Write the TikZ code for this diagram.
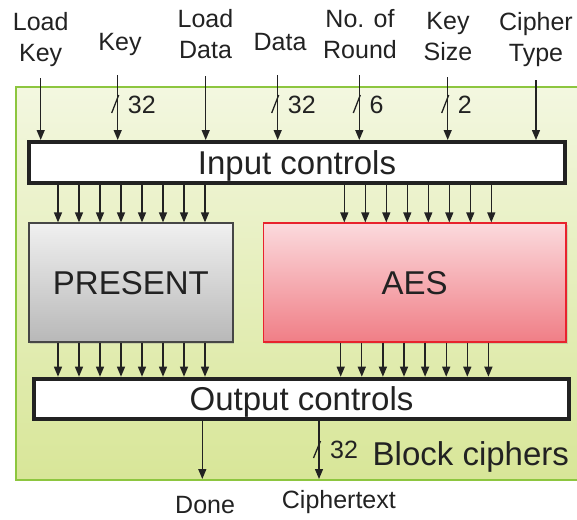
\documentclass[tikz,border=0pt]{standalone}
\usepackage{fontspec}
\setmainfont{Liberation Sans}
\usetikzlibrary{arrows.meta,shadows}
\definecolor{txt}{RGB}{34,34,34}
\definecolor{gtop}{RGB}{243,247,224}
\definecolor{gbot}{RGB}{216,230,152}
\definecolor{gline}{RGB}{141,198,63}
\definecolor{ptop}{RGB}{240,240,240}
\definecolor{pbot}{RGB}{184,184,184}
\definecolor{pline}{RGB}{70,70,70}
\definecolor{rtop}{RGB}{251,218,221}
\definecolor{rbot}{RGB}{240,126,134}
\definecolor{rline}{RGB}{232,35,45}
\tikzset{
  lbl/.style={font=\fontsize{25}{31}\selectfont, text=txt, align=center, inner sep=0pt},
  bus/.style={font=\fontsize{25}{28}\selectfont, text=txt, inner sep=0pt, anchor=base west},
  bigtxt/.style={font=\fontsize{33}{38}\selectfont, text=txt},
  arr/.style={draw=txt, line width=1.3pt, -{Triangle[length=10pt,width=8pt]}},
  slashmark/.style={draw=txt, line width=1.3pt},
  ctrlbox/.style={draw=txt, fill=white, line width=4pt, inner sep=0pt, bigtxt, text depth=0pt,
    drop shadow={opacity=0.25, shadow xshift=1.5pt, shadow yshift=-1.5pt}},
  cipherbox/.style={line width=1.2pt, inner sep=0pt, bigtxt, text depth=-2pt,
    drop shadow={opacity=0.25, shadow xshift=1.5pt, shadow yshift=-1.5pt}}
}
\begin{document}
\begin{tikzpicture}[x=1pt,y=-1pt]
\useasboundingbox (0,0) rectangle (577,519);
% container
\node[draw=gline, line width=2pt, top color=gtop, bottom color=gbot,
  minimum width=565pt, minimum height=393pt, inner sep=0pt] (bc) at (298.5,283.5) {};
% boxes
\node[ctrlbox, minimum width=535.4pt, minimum height=41pt] (inp) at (297,162.5) {Input controls};
\node[ctrlbox, minimum width=535.6pt, minimum height=40pt] (out) at (301.5,398.7) {Output controls};
\node[cipherbox, draw=pline, top color=ptop, bottom color=pbot,
  minimum width=204pt, minimum height=119pt] (pres) at (130.9,282.5) {PRESENT};
\node[cipherbox, draw=rline, top color=rtop, bottom color=rbot,
  minimum width=302.7pt, minimum height=119pt] (aes) at (414.7,282.5) {AES};
% top labels (anchor base = last line)
\node[lbl, anchor=base] (lLK) at (40.7,61.7) {Load\\Key};
\node[lbl, anchor=base] (lK) at (120,50) {Key};
\node[lbl, anchor=base] (lLD) at (205.5,58.3) {Load\\Data};
\node[lbl, anchor=base] (lD) at (280,50) {Data};
\node[lbl, anchor=base] (lNR) at (360,58.3) {No. of\\Round};
\node[lbl, anchor=base] (lKS) at (448,60) {Key\\Size};
\node[lbl, anchor=base] (lCT) at (536,61.7) {Cipher\\Type};
% input arrow starts
\coordinate (s1) at (40.7,78);
\coordinate (s2) at (117.7,75);
\coordinate (s3) at (205.7,76);
\coordinate (s4) at (277.7,75);
\coordinate (s5) at (359.3,75);
\coordinate (s6) at (447.7,77);
\coordinate (s7) at (536,80);
\foreach \s in {s1,s2,s3,s4,s5,s6,s7}
  \draw[arr] (\s) -- (\s |- inp.north);
% bus marks on inputs
\foreach \xx/\nn/\nm in {117.7/32/bk, 277.7/32/bd, 359.3/6/br, 447.7/2/bs}{
  \draw[slashmark] (\xx-6,113) -- (\xx+1,95);
  \node[bus] (\nm) at (\xx+10,113) {\nn};
}
% input controls to ciphers
\foreach \xx in {58,79,100,121,142,163,184,205}
  \draw[arr] (inp.south -| \xx,0) -- (pres.north -| \xx,0);
\foreach \xx in {344.3,365.3,386.3,407.3,428.3,449.3,470.3,491.3}
  \draw[arr] (inp.south -| \xx,0) -- (aes.north -| \xx,0);
% ciphers to output controls
\foreach \xx in {58,79,100,121,142,163,184,205}
  \draw[arr] (pres.south -| \xx,0) -- (out.north -| \xx,0);
\foreach \xx in {340.7,361.8,382.9,404,425.1,446.2,467.3,488.4}
  \draw[arr] (aes.south -| \xx,0) -- (out.north -| \xx,0);
% outputs
\coordinate (e1) at (202.3,479);
\coordinate (e2) at (319,479);
\draw[arr] (out.south -| e1) -- (e1);
\draw[arr] (out.south -| e2) -- (e2);
\draw[slashmark] (313.5,458) -- (320.5,441);
\node[bus] (bo) at (330,458.3) {32};
\node[bigtxt, anchor=base west, inner sep=0pt] (bcl) at (372.5,465) {Block ciphers};
\node[lbl, anchor=base west] (ldone) at (175,513) {Done};
\node[lbl, anchor=base west] (lct) at (281.7,508) {Ciphertext};
\end{tikzpicture}
\end{document}
